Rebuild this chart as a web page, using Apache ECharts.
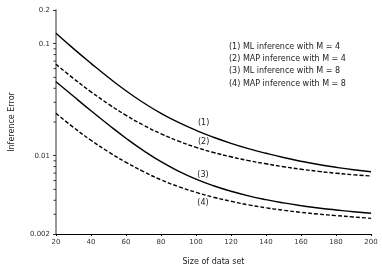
<!DOCTYPE html>
<html><head><meta charset="utf-8">
<script src="https://cdn.jsdelivr.net/npm/echarts@6/dist/echarts.min.js"></script>
<style>html,body{margin:0;padding:0;background:#fff}#c{width:382px;height:277px}</style>
</head><body><div id="c"></div>
<script>
const sizes = [20,30,40,50,60,70,80,90,100,110,120,130,140,150,160,170,180,190,200];
const mlM4  = [0.1239,0.0904,0.0668,0.0499,0.0380,0.0297,0.0239,0.01984,0.01686,0.01462,0.01291,0.01157,0.01051,0.00963,0.00892,0.00834,0.00788,0.00750,0.00720];
const mapM4 = [0.0655,0.0489,0.0372,0.0289,0.02295,0.01873,0.01569,0.01350,0.01189,0.01069,0.00978,0.00905,0.00847,0.00798,0.00758,0.00725,0.00698,0.00676,0.00659];
const mlM8  = [0.0458,0.0339,0.0252,0.01889,0.01433,0.01111,0.00884,0.00728,0.00617,0.00539,0.00482,0.00438,0.00405,0.00379,0.00358,0.00341,0.00328,0.00316,0.00306];
const mapM8 = [0.0239,0.01789,0.01373,0.01082,0.00873,0.00721,0.00609,0.00530,0.00471,0.00426,0.00392,0.00364,0.00343,0.00326,0.00312,0.00301,0.00292,0.00284,0.00276];
const curveTags = ['(1)','(2)','(3)','(4)'];
const legendLines = ['(1) ML inference with M = 4','(2) MAP inference with M = 4','(3) ML inference with M = 8','(4) MAP inference with M = 8'];
const minorTickValues = [0.003,0.004,0.005,0.006,0.007,0.008,0.009,0.02,0.03,0.04,0.05,0.06,0.07,0.08,0.09];
const xMin = 20, xMax = 200, xStep = 20, yMin = 0.002, yMax = 0.2;

const FONT = 'DejaVu Sans';
const labelAt = 100;
const tagOffsets = [[7.6,-7.6],[7.6,-5.6],[7,-4.2],[7,10.4]];

function makeSeries(vals, idx, dashed) {
  return {
    type: 'line',
    smooth: 0.5,
    symbol: 'circle',
    symbolSize: 0.5,
    showSymbol: true,
    silent: true,
    animation: false,
    itemStyle: {color: '#000'},
    lineStyle: {color: '#000', width: 1.4, type: dashed ? [4, 2] : 'solid'},
    data: sizes.map((s, i) => {
      const d = {value: [s, vals[i]]};
      if (s === labelAt) {
        d.label = {show: true, position: 'inside', formatter: curveTags[idx], offset: tagOffsets[idx],
          fontFamily: FONT, fontSize: 8, color: '#222', align: 'center', verticalAlign: 'middle'};
      }
      return d;
    }),
    z: 3
  };
}

const chart = echarts.init(document.getElementById('c'), null, {renderer: 'canvas'});
chart.setOption({
  animation: false,
  backgroundColor: '#fff',
  title: {
    text: legendLines.join('\n'),
    left: 224, top: 35.5,
    textStyle: {fontFamily: FONT, fontSize: 8, fontWeight: 'normal', color: '#222', lineHeight: 12.3}
  },
  grid: {left: 56, right: 11, top: 10, bottom: 43},
  xAxis: {
    type: 'value', min: xMin, max: xMax, interval: xStep,
    name: 'Size of data set', nameLocation: 'middle', nameGap: 24,
    nameTextStyle: {fontFamily: FONT, fontSize: 8, color: '#222'},
    axisLine: {show: true, lineStyle: {color: '#000', width: 1}},
    axisTick: {show: true, inside: false, length: 2, lineStyle: {color: '#000'}},
    axisLabel: {fontFamily: FONT, fontSize: 7, color: '#333', margin: 5},
    splitLine: {show: false}
  },
  yAxis: {
    type: 'log', logBase: 10, min: yMin, max: yMax,
    name: 'Inference Error', nameLocation: 'middle', nameGap: 40, nameRotate: 90,
    nameTextStyle: {fontFamily: FONT, fontSize: 8, color: '#222'},
    axisLine: {show: true, lineStyle: {color: '#999', width: 2}},
    axisTick: {show: true, inside: false, length: 3, lineStyle: {color: '#333'}},
    axisLabel: {fontFamily: FONT, fontSize: 7, color: '#333', margin: 6,
      formatter: v => String(parseFloat(Number(v).toPrecision(3)))},
    splitLine: {show: false}
  },
  series: [
    makeSeries(mlM4, 0, false),
    makeSeries(mapM4, 1, true),
    makeSeries(mlM8, 2, false),
    makeSeries(mapM8, 3, true),
    {
      type: 'custom',
      silent: true,
      animation: false,
      data: minorTickValues.map(v => [xMin, v]),
      renderItem: (params, api) => {
        const p = api.coord([api.value(0), api.value(1)]);
        return {type: 'line', shape: {x1: p[0] - 2.5, y1: p[1], x2: p[0], y2: p[1]},
          style: {stroke: '#333', lineWidth: 1}};
      },
      z: 4
    }
  ]
});
</script>
</body></html>
